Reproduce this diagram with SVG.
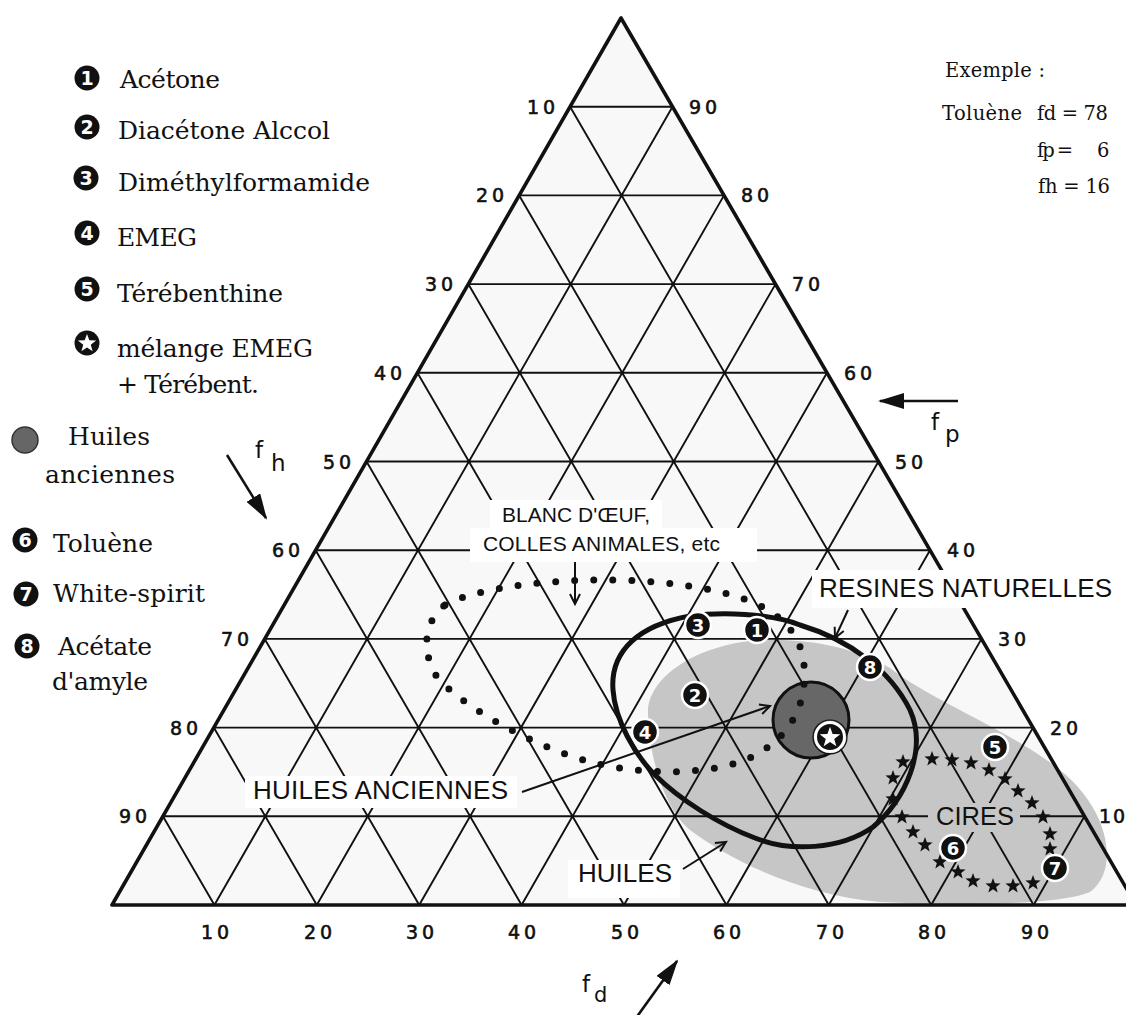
<svg xmlns="http://www.w3.org/2000/svg" width="1126" height="1015" viewBox="0 0 1126 1015">
<style>
.leg{font-family:"DejaVu Serif","Liberation Serif",serif;font-size:25px;fill:#111}
.ex{font-family:"DejaVu Serif","Liberation Serif",serif;font-size:19.5px;fill:#111}
.tick{font-family:"DejaVu Sans","Liberation Sans",sans-serif;font-size:19px;letter-spacing:4px;fill:#111;stroke:#111;stroke-width:0.6px}
.ax{font-family:"DejaVu Sans","Liberation Sans",sans-serif;font-size:23px;fill:#111}
.lab{font-family:"Liberation Sans",Arial,sans-serif;fill:#111}
.num{font-family:"DejaVu Sans","Liberation Sans",sans-serif;font-weight:bold;fill:#fff;text-anchor:middle}
.grid{fill:none;stroke:#111;stroke-width:1.9}
.mk{fill:#111;stroke:#fff;stroke-width:2.5}
.lm{fill:#111}
.ko{fill:#fff;stroke:none}
.ptr{stroke:#111;stroke-width:2;fill:none}
.axa{stroke:#111;stroke-width:2.6;fill:none}
</style>
<defs>
<path id="star" d="M0,-8 L1.94,-2.67 L7.61,-2.47 L3.14,1.02 L4.7,6.47 L0,3.3 L-4.7,6.47 L-3.14,1.02 L-7.61,-2.47 L-1.94,-2.67 Z"/>
<marker id="open" markerUnits="userSpaceOnUse" markerWidth="14" markerHeight="14" refX="11" refY="6" orient="auto" viewBox="0 0 14 12">
<path d="M1,1 L11,6 L1,11" fill="none" stroke="#111" stroke-width="2"/>
</marker>
<marker id="solid" markerUnits="userSpaceOnUse" markerWidth="26" markerHeight="16" refX="24" refY="8" orient="auto" viewBox="0 0 26 16">
<path d="M0,0 L26,8 L0,16 Z" fill="#111"/>
</marker>
</defs>
<rect width="1126" height="1015" fill="#fff"/>

<g id="triangle-bg">
<polygon points="621,18 112,905 1136,905" fill="#f8f8f8"/>
</g>

<g id="region-huiles">
<path d="M648,712 C648,680 690,648 750,641 C800,637 850,645 890,668 C930,700 1010,730 1060,770 C1110,810 1120,870 1090,892 C1060,905 960,906 880,902 C800,895 730,860 690,830 C660,805 648,745 648,712 Z" fill="#c6c6c6"/>
</g>

<g id="grid">
<path class="grid" d="M570.1,106.7 L672.5,106.7 M519.2,195.4 L724,195.4 M468.3,284.1 L775.5,284.1 M417.4,372.8 L827,372.8 M366.5,461.5 L878.5,461.5 M315.6,550.2 L930,550.2 M264.7,638.9 L981.5,638.9 M213.8,727.6 L1033,727.6 M162.9,816.3 L1084.5,816.3
M214.4,905 L672.5,106.7 M316.8,905 L724,195.4 M419.2,905 L775.5,284.1 M521.6,905 L827,372.8 M624,905 L878.5,461.5 M726.4,905 L930,550.2 M828.8,905 L981.5,638.9 M931.2,905 L1033,727.6 M1033.6,905 L1084.5,816.3
M214.4,905 L162.9,816.3 M316.8,905 L213.8,727.6 M419.2,905 L264.7,638.9 M521.6,905 L315.6,550.2 M624,905 L366.5,461.5 M726.4,905 L417.4,372.8 M828.8,905 L468.3,284.1 M931.2,905 L519.2,195.4 M1033.6,905 L570.1,106.7"/>
<polygon points="621,18 112,905 1136,905" fill="none" stroke="#111" stroke-width="3.6" stroke-linejoin="round"/>
</g>

<g id="knockouts">
<rect class="ko" x="490" y="500" width="172" height="30"/>
<rect class="ko" x="470" y="528" width="287" height="34"/>
<rect class="ko" x="812" y="570" width="310" height="38"/>
<rect class="ko" x="245" y="776" width="272" height="32"/>
<rect class="ko" x="568" y="860" width="112" height="38"/>
<rect x="928" y="803" width="92" height="29" fill="#c6c6c6"/>
</g>

<g id="region-huiles-anciennes">
<circle cx="811" cy="720" r="38" fill="#676767" stroke="#111" stroke-width="3"/>
</g>

<g id="region-blanc-oeuf">
<path d="M445,605 C480,585 600,570 700,588 C760,598 800,620 804,665 C808,710 785,745 740,762 C700,775 640,775 590,762 C530,745 460,705 437,677 C420,650 425,620 445,605 Z" fill="none" stroke="#111" stroke-width="7" stroke-linecap="round" stroke-dasharray="0 19"/>
</g>

<g id="region-resines">
<path d="M613,690 C610,650 640,625 690,616 C720,612 770,613 800,625 C850,640 890,670 910,710 C928,750 905,800 873,827 C840,850 790,852 755,838 C720,825 680,800 655,775 C635,755 615,720 613,690 Z" fill="none" stroke="#111" stroke-width="5"/>
</g>

<g id="region-cires" fill="#111">
<use href="#star" x="903" y="762"/>
<use href="#star" x="932" y="759"/>
<use href="#star" x="952" y="760"/>
<use href="#star" x="971" y="763"/>
<use href="#star" x="989" y="770"/>
<use href="#star" x="1005" y="779"/>
<use href="#star" x="1018" y="791"/>
<use href="#star" x="1032" y="803"/>
<use href="#star" x="1043" y="817"/>
<use href="#star" x="1050" y="834"/>
<use href="#star" x="1050" y="849"/>
<use href="#star" x="1033" y="883"/>
<use href="#star" x="1013" y="886"/>
<use href="#star" x="993" y="886"/>
<use href="#star" x="973" y="881"/>
<use href="#star" x="958" y="872"/>
<use href="#star" x="940" y="862"/>
<use href="#star" x="925" y="845"/>
<use href="#star" x="913" y="832"/>
<use href="#star" x="902" y="817"/>
<use href="#star" x="893" y="799"/>
<use href="#star" x="893" y="778"/>
</g>

<g id="connectors">
<line class="ptr" x1="575" y1="562" x2="575" y2="604" marker-end="url(#open)"/>
<line class="ptr" x1="848" y1="610" x2="835" y2="638" marker-end="url(#open)"/>
<line class="ptr" x1="522" y1="792" x2="770" y2="706" marker-end="url(#open)"/>
<line class="ptr" x1="683" y1="869" x2="726" y2="842" marker-end="url(#open)"/>
<line class="axa" x1="227" y1="455" x2="266" y2="518" marker-end="url(#solid)"/>
<line class="axa" x1="958" y1="401" x2="880" y2="401" marker-end="url(#solid)"/>
<line class="axa" x1="636" y1="1018" x2="677" y2="961" marker-end="url(#solid)"/>
</g>

<g id="markers">
<g id="m1"><circle class="mk" cx="757" cy="630" r="13"/><text class="num" x="757" y="636.5" font-size="18">1</text></g>
<g id="m2"><circle class="mk" cx="695" cy="695" r="13"/><text class="num" x="695" y="701.5" font-size="18">2</text></g>
<g id="m3"><circle class="mk" cx="698" cy="625" r="13"/><text class="num" x="698" y="631.5" font-size="18">3</text></g>
<g id="m4"><circle class="mk" cx="645" cy="732" r="13"/><text class="num" x="645" y="738.5" font-size="18">4</text></g>
<g id="m5"><circle class="mk" cx="995" cy="747" r="13"/><text class="num" x="995" y="753.5" font-size="18">5</text></g>
<g id="m6"><circle class="mk" cx="953" cy="848" r="13"/><text class="num" x="953" y="854.5" font-size="18">6</text></g>
<g id="m7"><circle class="mk" cx="1055" cy="868" r="13"/><text class="num" x="1055" y="874.5" font-size="18">7</text></g>
<g id="m8"><circle class="mk" cx="870" cy="667" r="13"/><text class="num" x="870" y="673.5" font-size="18">8</text></g>
<g id="mstar"><circle cx="830" cy="737" r="17" fill="none" stroke="#111" stroke-width="1.2"/><circle cx="830" cy="737" r="14.5" fill="#111" stroke="#fff" stroke-width="3"/><use href="#star" transform="translate(830,737.5) scale(1.35)" fill="#fff"/></g>
</g>

<g id="chart-labels" class="lab">
<text x="502" y="522" font-size="21" textLength="148">BLANC D'ŒUF,</text>
<text x="483" y="551" font-size="21" textLength="237">COLLES ANIMALES, etc</text>
<text x="819" y="597" font-size="26" textLength="293">RESINES NATURELLES</text>
<text x="253" y="799" font-size="26" textLength="255">HUILES ANCIENNES</text>
<text x="578" y="882" font-size="26" textLength="94">HUILES</text>
<text x="936" y="825" font-size="25.5" textLength="78">CIRES</text>
</g>

<g id="ticks-fh" class="tick">
<text x="527" y="114">10</text>
<text x="476" y="202">20</text>
<text x="425" y="291">30</text>
<text x="374" y="380">40</text>
<text x="323" y="469">50</text>
<text x="272" y="557">60</text>
<text x="221" y="646">70</text>
<text x="170" y="735">80</text>
<text x="119" y="823">90</text>
</g>
<g id="ticks-fp" class="tick">
<text x="689" y="114">90</text>
<text x="741" y="202">80</text>
<text x="792" y="291">70</text>
<text x="844" y="380">60</text>
<text x="895" y="469">50</text>
<text x="947" y="557">40</text>
<text x="998" y="646">30</text>
<text x="1050" y="735">20</text>
<text x="1099" y="823" letter-spacing="2">10</text>
</g>
<g id="ticks-fd" class="tick">
<text x="201" y="939">10</text>
<text x="304" y="939">20</text>
<text x="406" y="939">30</text>
<text x="508" y="939">40</text>
<text x="611" y="939">50</text>
<text x="713" y="939">60</text>
<text x="816" y="939">70</text>
<text x="918" y="939">80</text>
<text x="1021" y="939">90</text>
</g>

<g id="axis-labels" class="ax">
<text x="255" y="458">f</text><text x="271" y="471">h</text>
<text x="931" y="430">f</text><text x="945" y="442">p</text>
<text x="582" y="992">f</text><text x="594" y="1002" font-size="21">d</text>
</g>

<g id="legend">
<g id="leg1"><circle class="lm" cx="87" cy="78" r="12.5"/><text class="num" x="87" y="85" font-size="19">1</text><text class="leg" x="120" y="88" textLength="100">Acétone</text></g>
<g id="leg2"><circle class="lm" cx="87" cy="127" r="12.5"/><text class="num" x="87" y="134" font-size="19">2</text><text class="leg" x="118" y="139" textLength="212">Diacétone Alccol</text></g>
<g id="leg3"><circle class="lm" cx="86" cy="178" r="12.5"/><text class="num" x="86" y="185" font-size="19">3</text><text class="leg" x="118" y="191" textLength="252">Diméthylformamide</text></g>
<g id="leg4"><circle class="lm" cx="87" cy="233" r="12.5"/><text class="num" x="87" y="240" font-size="19">4</text><text class="leg" x="117" y="246" textLength="80">EMEG</text></g>
<g id="leg5"><circle class="lm" cx="87" cy="289" r="12.5"/><text class="num" x="87" y="296" font-size="19">5</text><text class="leg" x="117" y="302" textLength="166">Térébenthine</text></g>
<g id="legstar"><circle class="lm" cx="87" cy="343" r="12.5"/><use href="#star" transform="translate(87,343.5) scale(1.2)" fill="#fff"/><text class="leg" x="117" y="357" textLength="196">mélange EMEG</text><text class="leg" x="117" y="393" textLength="142">+ Térébent.</text></g>
<g id="leggray"><circle cx="25" cy="440" r="13" fill="#666" stroke="#333" stroke-width="1.5"/><text class="leg" x="68" y="445" textLength="82">Huiles</text><text class="leg" x="45" y="483" textLength="130">anciennes</text></g>
<g id="leg6"><circle class="lm" cx="25" cy="540" r="12.5"/><text class="num" x="25" y="547" font-size="19">6</text><text class="leg" x="53" y="552" textLength="100">Toluène</text></g>
<g id="leg7"><circle class="lm" cx="26" cy="594" r="12.5"/><text class="num" x="26" y="601" font-size="19">7</text><text class="leg" x="53" y="602" textLength="152">White-spirit</text></g>
<g id="leg8"><circle class="lm" cx="27" cy="646" r="12.5"/><text class="num" x="27" y="653" font-size="19">8</text><text class="leg" x="58" y="655" textLength="94">Acétate</text><text class="leg" x="52" y="690" textLength="96">d'amyle</text></g>
</g>

<g id="example" class="ex">
<text x="945" y="77" textLength="100">Exemple :</text>
<text x="942" y="120" textLength="80">Toluène</text>
<text x="1037" y="120" textLength="71">fd = 78</text>
<text x="1037" y="157" textLength="36">fp =</text>
<text x="1097" y="157">6</text>
<text x="1038" y="193" textLength="72">fh = 16</text>
</g>
</svg>
